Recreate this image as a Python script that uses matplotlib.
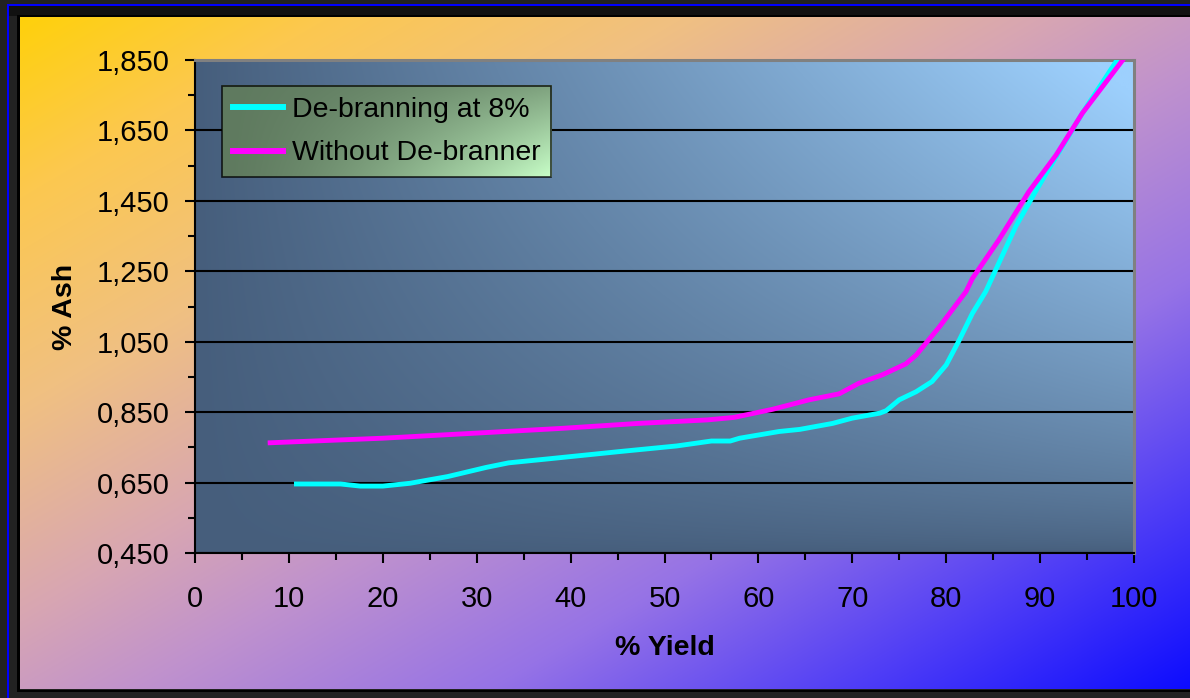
import numpy as np
import matplotlib
matplotlib.use('Agg')
import matplotlib.pyplot as plt
from matplotlib.ticker import FixedLocator, FuncFormatter
from matplotlib.patches import Rectangle

# ---------------- data ----------------
yield_deb = [10.8, 15.5, 17.6, 20.0, 22.9, 26.9, 31.0, 33.4, 37.5, 45.2, 51.3, 55.0,
             57.0, 58.0, 62.2, 64.4, 67.9, 70.0, 72.9, 73.6, 75.0, 76.8, 78.5, 80.0,
             81.4, 82.8, 84.2, 85.6, 87.4, 89.5, 91.7, 94.5, 98.2]
ash_deb = [0.646, 0.646, 0.640, 0.640, 0.648, 0.667, 0.693, 0.706, 0.717, 0.738, 0.754, 0.768,
           0.768, 0.776, 0.795, 0.801, 0.818, 0.833, 0.847, 0.854, 0.885, 0.908, 0.937, 0.984,
           1.055, 1.131, 1.192, 1.273, 1.377, 1.476, 1.575, 1.699, 1.850]

yield_nodeb = [8.0, 20.0, 31.0, 39.1, 47.2, 54.6, 57.4, 61.5, 65.4, 68.6, 70.7, 73.2,
               75.7, 76.8, 79.3, 82.1, 82.8, 85.6, 88.8, 91.7, 94.5, 98.8]
ash_nodeb = [0.763, 0.776, 0.792, 0.804, 0.818, 0.828, 0.835, 0.858, 0.885, 0.902, 0.932, 0.956,
             0.987, 1.012, 1.093, 1.192, 1.230, 1.339, 1.476, 1.580, 1.699, 1.850]

series_labels = ['De-branning at 8%', 'Without De-branner']
x_major = [0, 10, 20, 30, 40, 50, 60, 70, 80, 90, 100]
x_minor = [5, 15, 25, 35, 45, 55, 65, 75, 85, 95]
y_major = [0.45, 0.65, 0.85, 1.05, 1.25, 1.45, 1.65, 1.85]
y_minor = [0.55, 0.75, 0.95, 1.15, 1.35, 1.55, 1.75]
x_label = '% Yield'
y_label = '% Ash'

# ---------------- figure ----------------
W, H = 1190, 698
plt.rcParams['font.family'] = ['Liberation Sans', 'DejaVu Sans']
fig = plt.figure(figsize=(W / 100, H / 100), dpi=100)
fig.patch.set_facecolor('#222222')

# background frame in pixel coordinates
bg = fig.add_axes([0, 0, 1, 1], zorder=0)
bg.axis('off')
gx0, gx1, gy0, gy1 = 19.5, W, 17, 689.5
xx = np.linspace(0, 1, 400)
yy = np.linspace(0, 1, 240)
X, Y = np.meshgrid(xx, yy)
T = ((gx0 + X * (gx1 - gx0)) / W + (gy0 + Y * (gy1 - gy0)) / H) / 2
stop_pos = [0.0, 0.15, 0.30, 0.45, 0.55, 0.70, 0.85, 1.0]
stop_col = np.array([[255, 210, 0], [252, 200, 80], [240, 192, 130], [216, 166, 178],
                     [192, 146, 205], [150, 115, 230], [80, 62, 246], [10, 10, 255]], float)
bg_img = np.stack([np.interp(T, stop_pos, stop_col[:, i]) for i in range(3)], axis=-1) / 255
bg.imshow(bg_img, extent=(gx0, gx1, gy1, gy0), aspect='auto', interpolation='bilinear')
bg.add_patch(Rectangle((9, 6), W - 9, 10, color='#111111', lw=0))
bg.add_patch(Rectangle((17, 15), W - 17, 2, color='black', lw=0))
bg.add_patch(Rectangle((17, 15), 2.5, 677, color='black', lw=0))
bg.add_patch(Rectangle((17, 689.5), W - 17, 2.5, color='black', lw=0))
bg.add_patch(Rectangle((7, 4), W - 7, 2, color='#0000ff', lw=0))
bg.add_patch(Rectangle((7, 4), 2, H - 4, color='#0000ff', lw=0))
bg.set_xlim(0, W)
bg.set_ylim(H, 0)

# main axes
ax = fig.add_axes([195 / W, 1 - 553 / H, (1134 - 195) / W, 493 / H], zorder=1)
ax.set_xlim(0, 100)
ax.set_ylim(0.45, 1.85)
ax.patch.set_alpha(0)

# plot-area gradient
u = np.linspace(0, 1, 400)
v = np.linspace(0, 1, 240)
U, V = np.meshgrid(u, v)
F = np.clip((U ** 1.0) * ((1 - V) ** 0.7) * 1.05, 0, 1)
dark = np.array([70, 94, 124], float)
light = np.array([157, 208, 253], float)
pa = (dark[None, None, :] + F[..., None] * (light - dark)[None, None, :]) / 255
ax.imshow(pa, extent=(0, 100, 0.45, 1.85), aspect='auto', zorder=-1, interpolation='bilinear')

ax.set_axisbelow(True)
ax.grid(axis='y', which='major', color='black', linewidth=1.5)

ax.plot(yield_deb, ash_deb, color='#00ffff', lw=3.5, label=series_labels[0], zorder=3)
ax.plot(yield_nodeb, ash_nodeb, color='#ff00ff', lw=3.5, label=series_labels[1], zorder=3)

ax.xaxis.set_major_locator(FixedLocator(x_major))
ax.xaxis.set_minor_locator(FixedLocator(x_minor))
ax.yaxis.set_major_locator(FixedLocator(y_major))
ax.yaxis.set_minor_locator(FixedLocator(y_minor))
ax.yaxis.set_major_formatter(FuncFormatter(lambda val, p: f"{val:.3f}".replace('.', ',')))
ax.tick_params(axis='both', which='major', direction='out', length=7, width=1.5,
               colors='black', labelsize=21)
ax.tick_params(axis='both', which='minor', direction='out', length=5, width=1.5, colors='black')
ax.tick_params(axis='x', which='major', pad=16)
ax.tick_params(axis='y', which='major', pad=11.5)

for s in ['top', 'right']:
    ax.spines[s].set_color('#808080')
    ax.spines[s].set_linewidth(2.2)
for s in ['left', 'bottom']:
    ax.spines[s].set_color('black')
    ax.spines[s].set_linewidth(1.5)

ax.set_xlabel(x_label, fontsize=20.5, fontweight='bold')
ax.set_ylabel(y_label, fontsize=20.5, fontweight='bold')
ax.xaxis.set_label_coords(0.5, -0.167)
ax.yaxis.set_label_coords(-0.125, 0.5)

leg = ax.legend(loc='upper left', bbox_to_anchor=((222 - 195) / 939, (553 - 86) / 493),
                borderaxespad=0, fontsize=20.5, frameon=True, fancybox=False,
                handlelength=1.75, handletextpad=0.32, borderpad=0.38, labelspacing=0.62)
leg.get_frame().set_facecolor('none')
leg.get_frame().set_edgecolor('black')
leg.get_frame().set_linewidth(1.2)
leg.set_zorder(6)
for h in leg.get_lines():
    h.set_linewidth(4.3)

fig.canvas.draw()
bb = leg.get_window_extent().transformed(ax.transAxes.inverted())
lu = np.linspace(0, 1, 300)
lv = np.linspace(0, 1, 100)
LU, LV = np.meshgrid(lu, lv)
LF = (LU ** 1.5) * (0.3 + 0.7 * LV)
ldark = np.array([95, 122, 95], float)
llight = np.array([200, 255, 200], float)
limg = (ldark[None, None, :] + LF[..., None] * (llight - ldark)[None, None, :]) / 255
ax.imshow(limg, extent=(bb.x0, bb.x1, bb.y0, bb.y1), transform=ax.transAxes,
          aspect='auto', zorder=5.5, interpolation='bilinear')
ax.set_xlim(0, 100)
ax.set_ylim(0.45, 1.85)

fig.savefig('out.png', dpi=100, facecolor=fig.get_facecolor())
